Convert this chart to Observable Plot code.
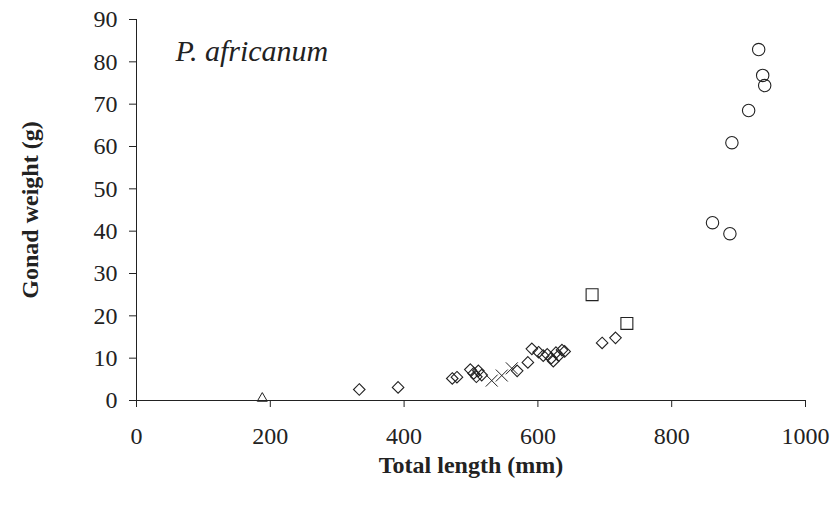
<!DOCTYPE html>
<html>
<head>
<meta charset="utf-8">
<script src="https://cdn.jsdelivr.net/npm/d3@7"></script>
<script src="https://cdn.jsdelivr.net/npm/@observablehq/plot@0.6"></script>
<style>
  html, body { margin: 0; padding: 0; background: #fff; }
  #chart svg { display: block; }
</style>
</head>
<body>
<div id="chart"></div>
<script>
// ---- data ----
const title = "P. africanum";
const xLabel = "Total length (mm)";
const yLabel = "Gonad weight (g)";
const xTicks = [0, 200, 400, 600, 800, 1000];
const yTicks = [0, 10, 20, 30, 40, 50, 60, 70, 80, 90];

const triangleX = [188];
const triangleY = [0.5];

const diamondX = [333, 391, 472, 479, 499, 504, 508, 511, 516, 569, 585, 591, 601, 608, 614, 620, 623, 627, 631, 636, 640, 696, 716];
const diamondY = [2.6, 3.1, 5.2, 5.5, 7.3, 6.4, 5.6, 7.0, 6.0, 7.0, 9.0, 12.2, 11.4, 10.6, 10.9, 10.0, 9.3, 11.3, 10.6, 11.9, 11.6, 13.6, 14.8];

const crossX = [531, 546, 561];
const crossY = [4.7, 5.9, 7.6];

const squareX = [681, 733];
const squareY = [25.0, 18.2];

const circleX = [861, 887, 890, 915, 930, 936, 939];
const circleY = [42.0, 39.4, 60.9, 68.5, 82.9, 76.8, 74.4];

const toRows = (xs, ys) => xs.map((x, i) => ({x, y: ys[i]}));

const font = "'Liberation Serif', 'Times New Roman', serif";
const ink = "#222";
const fmt = d => String(d);

const chart = Plot.plot({
  width: 837,
  height: 507,
  marginLeft: 136,
  marginRight: 32,
  marginTop: 19,
  marginBottom: 107,
  style: {fontFamily: font, background: "#fff", color: ink},
  x: {domain: [0, 1000]},
  y: {domain: [0, 90]},
  marks: [
    Plot.axisX({ticks: xTicks, tickFormat: fmt, tickSize: 7, tickPadding: 19, fontSize: 24, label: null, stroke: ink}),
    Plot.axisY({ticks: yTicks, tickFormat: fmt, tickSize: 7, tickPadding: 12, fontSize: 24, label: null, stroke: ink}),
    Plot.ruleY([0], {stroke: ink, strokeWidth: 1}),
    Plot.ruleX([0], {stroke: ink, strokeWidth: 1}),
    Plot.dot(toRows(triangleX, triangleY), {x: "x", y: "y", symbol: "triangle2", r: 4.8, stroke: ink, strokeWidth: 1}),
    Plot.dot(toRows(diamondX, diamondY), {x: "x", y: "y", symbol: "diamond2", r: 5.2, stroke: ink, strokeWidth: 1.1}),
    Plot.dot(toRows(crossX, crossY), {x: "x", y: "y", symbol: "times", r: 5.5, stroke: ink, strokeWidth: 1}),
    Plot.dot(toRows(squareX, squareY), {x: "x", y: "y", symbol: "square2", r: 7.6, stroke: ink, strokeWidth: 1.1}),
    Plot.dot(toRows(circleX, circleY), {x: "x", y: "y", symbol: "circle", r: 6.2, stroke: ink, strokeWidth: 1.1}),
    Plot.text([title], {frameAnchor: "top-left", dx: 39, dy: 32, textAnchor: "start", lineAnchor: "middle", fontSize: 30, fontStyle: "italic", fill: ink}),
    Plot.text([xLabel], {frameAnchor: "bottom", dy: 65, textAnchor: "middle", lineAnchor: "middle", fontSize: 24, fontWeight: "bold", fill: ink}),
    Plot.text([yLabel], {frameAnchor: "left", dx: -106, rotate: -90, textAnchor: "middle", lineAnchor: "middle", fontSize: 24, fontWeight: "bold", fill: ink})
  ]
});

document.getElementById("chart").appendChild(chart);
</script>
</body>
</html>
